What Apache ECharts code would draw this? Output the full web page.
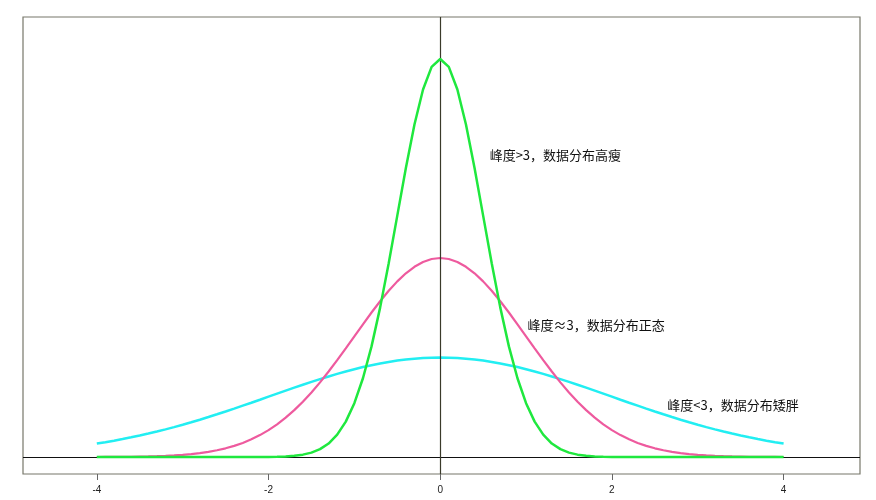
<!DOCTYPE html>
<html>
<head>
<meta charset="utf-8">
<script src="https://cdn.jsdelivr.net/npm/echarts@6/dist/echarts.min.js"></script>
<style>html,body{margin:0;padding:0;background:#fff;}#c{width:876px;height:500px;}</style>
</head>
<body>
<div id="c"></div>
<script>
// x positions (step 0.1, -4 .. 4)
const xValues = [
-4.0,-3.9,-3.8,-3.7,-3.6,-3.5,-3.4,-3.3,-3.2,-3.1,
-3.0,-2.9,-2.8,-2.7,-2.6,-2.5,-2.4,-2.3,-2.2,-2.1,
-2.0,-1.9,-1.8,-1.7,-1.6,-1.5,-1.4,-1.3,-1.2,-1.1,
-1.0,-0.9,-0.8,-0.7,-0.6,-0.5,-0.4,-0.3,-0.2,-0.1,
0.0,
0.1,0.2,0.3,0.4,0.5,0.6,0.7,0.8,0.9,1.0,
1.1,1.2,1.3,1.4,1.5,1.6,1.7,1.8,1.9,2.0,
2.1,2.2,2.3,2.4,2.5,2.6,2.7,2.8,2.9,3.0,
3.1,3.2,3.3,3.4,3.5,3.6,3.7,3.8,3.9,4.0];

// 峰度>3 (tall, thin)
const tallValues = [
0,0,0,0,0,0,0,0,0,0,
0,0,0,0,0,0,0,0,0,0.0001,
0.0003,0.0006,0.0012,0.0025,0.0048,0.0089,0.0158,0.0271,0.0448,0.0710,
0.1080,0.1579,0.2218,0.2995,0.3884,0.4839,0.5794,0.6664,0.7366,0.7821,
0.7979,
0.7821,0.7366,0.6664,0.5794,0.4839,0.3884,0.2995,0.2218,0.1579,0.1080,
0.0710,0.0448,0.0271,0.0158,0.0089,0.0048,0.0025,0.0012,0.0006,0.0003,
0.0001,0,0,0,0,0,0,0,0,0,
0,0,0,0,0,0,0,0,0,0];

// 峰度≈3 (normal)
const normalValues = [
0.0001,0.0002,0.0003,0.0004,0.0006,0.0009,0.0012,0.0017,0.0024,0.0033,
0.0044,0.0060,0.0079,0.0104,0.0136,0.0175,0.0224,0.0283,0.0355,0.0440,
0.0540,0.0656,0.0790,0.0940,0.1109,0.1295,0.1497,0.1714,0.1942,0.2179,
0.2420,0.2661,0.2897,0.3123,0.3332,0.3521,0.3683,0.3814,0.3910,0.3970,
0.3989,
0.3970,0.3910,0.3814,0.3683,0.3521,0.3332,0.3123,0.2897,0.2661,0.2420,
0.2179,0.1942,0.1714,0.1497,0.1295,0.1109,0.0940,0.0790,0.0656,0.0540,
0.0440,0.0355,0.0283,0.0224,0.0175,0.0136,0.0104,0.0079,0.0060,0.0044,
0.0033,0.0024,0.0017,0.0012,0.0009,0.0006,0.0004,0.0003,0.0002,0.0001];

// 峰度<3 (short, fat)
const flatValues = [
0.0270,0.0298,0.0328,0.0360,0.0395,0.0431,0.0470,0.0511,0.0555,0.0600,
0.0648,0.0697,0.0748,0.0802,0.0857,0.0913,0.0971,0.1030,0.1089,0.1149,
0.1210,0.1270,0.1330,0.1390,0.1448,0.1506,0.1561,0.1615,0.1666,0.1715,
0.1760,0.1803,0.1841,0.1876,0.1907,0.1933,0.1955,0.1972,0.1985,0.1992,
0.1995,
0.1992,0.1985,0.1972,0.1955,0.1933,0.1907,0.1876,0.1841,0.1803,0.1760,
0.1715,0.1666,0.1615,0.1561,0.1506,0.1448,0.1390,0.1330,0.1270,0.1210,
0.1149,0.1089,0.1030,0.0971,0.0913,0.0857,0.0802,0.0748,0.0697,0.0648,
0.0600,0.0555,0.0511,0.0470,0.0431,0.0395,0.0360,0.0328,0.0298,0.0270];

const xTickLabels = [-4, -2, 0, 2, 4];

const noteTall = '峰度>3，数据分布高瘦';
const noteNormal = '峰度≈3，数据分布正态';
const noteFlat = '峰度<3，数据分布矮胖';

const pairs = (ys) => xValues.map((x, i) => [x, ys[i]]);
const note = (text, coord) => ({
  silent: true, symbol: 'circle', symbolSize: 1,
  itemStyle: {color: 'rgba(0,0,0,0)'},
  label: {
    show: true, position: 'right', distance: 0, formatter: text,
    fontFamily: '"Noto Sans CJK SC", sans-serif', fontSize: 13, color: '#111', fontWeight: 'normal'
  },
  data: [{coord: coord, value: 0}]
});

const chart = echarts.init(document.getElementById('c'));
chart.setOption({
  animation: false,
  backgroundColor: '#fff',
  grid: {left: 23, right: 16, top: 17, bottom: 26, show: true, borderColor: '#77776a', borderWidth: 1.2, backgroundColor: 'transparent'},
  xAxis: {
    type: 'value', min: -4.86, max: 4.89,
    axisLine: {show: false, onZero: false},
    splitLine: {show: false},
    axisTick: {show: true, length: 6, customValues: xTickLabels, lineStyle: {color: '#666'}},
    axisLabel: {customValues: xTickLabels, color: '#222', fontSize: 10, margin: 11, fontFamily: 'Liberation Sans, Arial, sans-serif'}
  },
  yAxis: {
    type: 'value', min: -0.034, max: 0.882,
    axisLine: {show: false}, axisTick: {show: false}, axisLabel: {show: false}, splitLine: {show: false}
  },
  series: [
    {
      type: 'line', data: pairs(flatValues), showSymbol: false, symbol: 'none',
      lineStyle: {color: '#22eef2', width: 2.5}, z: 3,
      markPoint: note(noteFlat, [2.64, 0.104])
    },
    {
      type: 'line', data: pairs(normalValues), showSymbol: false, symbol: 'none',
      lineStyle: {color: '#ee5a9e', width: 2.2}, z: 4,
      markPoint: note(noteNormal, [1.01, 0.2645]),
      markLine: {
        silent: true, symbol: 'none', animation: false,
        label: {show: false},
        data: [
          {yAxis: 0, lineStyle: {color: '#111', width: 1.2, type: 'solid'}},
          {xAxis: 0, lineStyle: {color: '#3a3a2a', width: 1.2, type: 'solid'}}
        ]
      }
    },
    {
      type: 'line', data: pairs(tallValues), showSymbol: false, symbol: 'none',
      lineStyle: {color: '#1fe83e', width: 2.5}, z: 5,
      markPoint: note(noteTall, [0.57, 0.605])
    }
  ]
});
</script>
</body>
</html>
